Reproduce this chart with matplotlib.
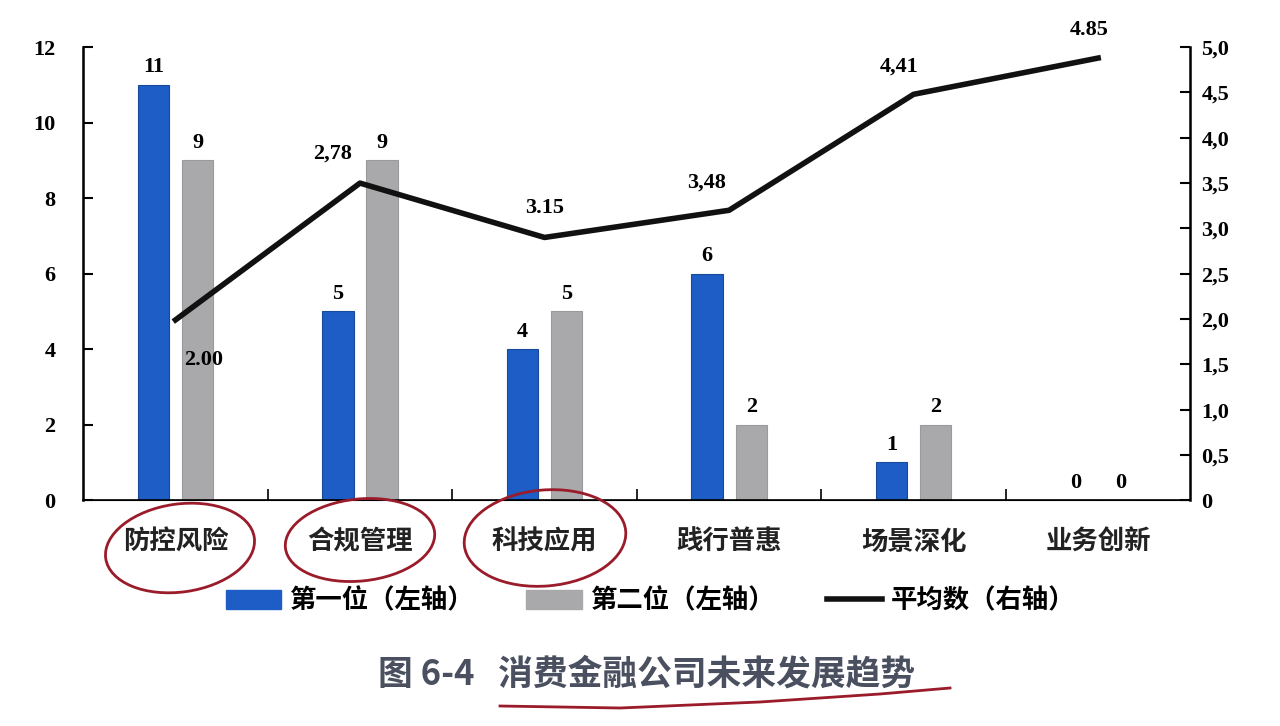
import matplotlib.pyplot as plt
from matplotlib.patches import Ellipse
from matplotlib.lines import Line2D
from matplotlib.patches import Patch
import numpy as np

plt.rcParams['font.family'] = ['Liberation Serif', 'Noto Sans CJK SC', 'DejaVu Sans']

categories = ['防控风险', '合规管理', '科技应用', '践行普惠', '场景深化', '业务创新']
first_place = [11, 5, 4, 6, 1, 0]
second_place = [9, 9, 5, 2, 2, 0]
# line as drawn on the right axis, and the printed labels
average = [1.99, 3.50, 2.90, 3.20, 4.48, 4.88]
average_labels = ['2.00', '2,78', '3.15', '3,48', '4,41', '4.85']
right_ticks = [0, 0.5, 1.0, 1.5, 2.0, 2.5, 3.0, 3.5, 4.0, 4.5, 5.0]
right_tick_labels = ['0', '0,5', '1,0', '1,5', '2,0', '2,5', '3,0', '3,5', '4,0', '4,5', '5,0']

blue = '#1e5cc6'
gray = '#a9a9ab'

fig = plt.figure(figsize=(12.8, 7.26), dpi=100)
ax = fig.add_axes([0.065, 0.311, 0.865, 0.624])
ax2 = ax.twinx()

x = np.arange(len(categories))
w = 0.17
off = 0.12
ax.bar(x - off, first_place, w, color=blue, edgecolor='#174a9a', linewidth=0.8, zorder=2)
ax.bar(x + off, second_place, w, color=gray, edgecolor='#9a9a9c', linewidth=0.8, zorder=2)

for xi, v in zip(x, first_place):
    ax.text(xi - off, v + 0.2, str(v), ha='center', va='bottom', fontsize=16, fontweight='bold')
for xi, v in zip(x, second_place):
    ax.text(xi + off, v + 0.2, str(v), ha='center', va='bottom', fontsize=16, fontweight='bold')

ax.set_xlim(-0.5, 5.5)
ax.set_ylim(0, 12)
ax.set_yticks(range(0, 13, 2))
ax.set_xticks(np.arange(0.5, 5.5, 1.0))
ax.set_xticklabels([])
ax.tick_params(axis='x', direction='in', length=8, width=1.2)
ax.tick_params(axis='y', direction='in', length=7, width=1.5, labelsize=16, pad=20)
for lbl in ax.get_yticklabels():
    lbl.set_fontweight('bold')
ax.spines['top'].set_visible(False)
ax.spines['left'].set_linewidth(1.8)
ax.spines['bottom'].set_linewidth(1.2)

for xi, c in zip(x, categories):
    ax.text(xi, -0.75, c, ha='center', va='top', fontsize=19, fontweight='bold',
            family=['Noto Sans CJK SC', 'DejaVu Sans'], color='#222222')

ax2.plot(x, average, color='#111111', linewidth=4, solid_joinstyle='round', zorder=3)
ax2.set_ylim(0, 5)
ax2.set_yticks(right_ticks)
ax2.set_yticklabels(right_tick_labels)
ax2.tick_params(axis='y', direction='in', length=7, width=1.5, labelsize=16, pad=8)
for lbl in ax2.get_yticklabels():
    lbl.set_fontweight('bold')
ax2.spines['top'].set_visible(False)
ax2.spines['right'].set_linewidth(1.8)

label_offsets = [(0.15, -0.33), (-0.15, 0.22), (0.0, 0.22), (-0.12, 0.2), (-0.08, 0.2), (-0.05, 0.2)]
for xi, v, s, (dx, dy) in zip(x, average, average_labels, label_offsets):
    ax2.text(xi + dx, v + dy, s, ha='center', va='bottom' if dy > 0 else 'top',
             fontsize=16, fontweight='bold')

handles = [Patch(color=blue), Patch(color=gray), Line2D([0], [0], color='#111111', linewidth=4)]
fig.legend(handles, ['第一位（左轴）', '第二位（左轴）', '平均数（右轴）'],
           loc='center', bbox_to_anchor=(0.508, 0.172), ncol=3, frameon=False,
           prop={'family': ['Noto Sans CJK SC'], 'size': 19, 'weight': 'bold'},
           handlelength=2.1, handleheight=0.7, handletextpad=0.3, columnspacing=2.0)

fig.text(0.505, 0.072, '图 6-4   消费金融公司未来发展趋势', ha='center', va='center',
         fontsize=25, fontweight='bold', color='#4a5060', family=['Noto Sans CJK SC'])

# hand-drawn red marks
over = fig.add_axes([0, 0, 1, 1], zorder=5)
over.set_xlim(0, 1280)
over.set_ylim(726, 0)
over.axis('off')
over.patch.set_alpha(0)
for cx, cy, ew, eh, ang in [(180, 548, 150, 88, -8), (360, 540, 150, 82, -6), (545, 538, 162, 96, -5)]:
    over.add_patch(Ellipse((cx, cy), ew, eh, angle=ang, fill=False, edgecolor='#9a1b2a', linewidth=2))
over.plot([500, 620, 760, 880, 950], [706, 708, 702, 694, 688], color='#9a1b2a', linewidth=2)

fig.savefig('out.png', dpi=100, facecolor='white')
